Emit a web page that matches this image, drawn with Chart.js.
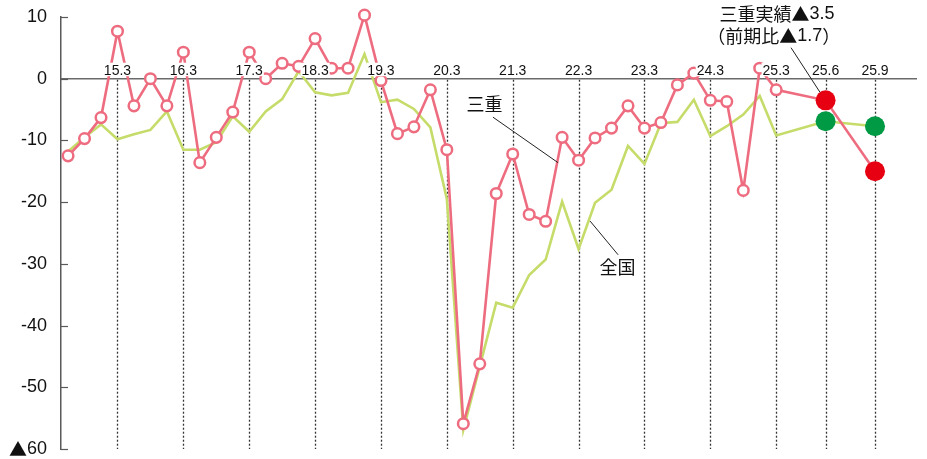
<!DOCTYPE html>
<html>
<head>
<meta charset="utf-8">
<style>
html,body{margin:0;padding:0;background:#fff;}
#wrap{width:927px;height:459px;position:relative;}
</style>
<script src="https://cdn.jsdelivr.net/npm/chart.js@4.4.1/dist/chart.umd.min.js"></script>
</head>
<body>
<div id="wrap"><canvas id="c" width="927" height="459"></canvas></div>
<script>
// ---- data ----
const categories = [
  '14.6','14.9','14.12',
  '15.3','15.6','15.9','15.12',
  '16.3','16.6','16.9','16.12',
  '17.3','17.6','17.9','17.12',
  '18.3','18.6','18.9','18.12',
  '19.3','19.6','19.9','19.12',
  '20.3','20.6','20.9','20.12',
  '21.3','21.6','21.9','21.12',
  '22.3','22.6','22.9','22.12',
  '23.3','23.6','23.9','23.12',
  '24.3','24.6','24.9','24.12',
  '25.3','25.6','25.9'
];
const mieValues = [
  -12.5, -9.7, -6.3,
  7.7, -4.4, 0.0, -4.4,
  4.3, -13.6, -9.5, -5.4,
  4.3, 0.0, 2.5, 2.0,
  6.5, 1.7, 1.7, 10.3,
  -0.3, -8.9, -7.8, -1.8,
  -11.5, -55.9, -46.2, -18.6,
  -12.2, -22.0, -23.1, -9.5,
  -13.2, -9.6, -8.0, -4.4,
  -8.0, -7.1, -1.0, 0.9,
  -3.5, -3.7, -18.1, 1.7,
  -1.8, -3.5, -15.0
];
const nationalValues = [
  -11.8, -9.5, -7.4,
  -9.8, -9.0, -8.3, -5.3,
  -11.5, -11.5, -10.3, -6.1,
  -8.6, -5.3, -3.3, 1.2,
  -2.2, -2.7, -2.3, 4.0,
  -3.8, -3.4, -4.9, -7.9,
  -19.5, -56.9, -46.6, -36.3,
  -37.1, -31.8, -29.3, -19.9,
  -27.6, -20.1, -18.0, -10.9,
  -13.8, -7.2, -7.0, -3.4,
  -9.3, -7.7, -5.8, -2.8,
  -9.2, -6.9, -7.7
];
const xTickLabels = ['15.3','16.3','17.3','18.3','19.3','20.3','21.3','22.3','23.3','24.3','25.3','25.6','25.9'];
const yTickValues = [10, 0, -10, -20, -30, -40, -50, -60];
const yTickLabels = ['10', '0', '-10', '-20', '-30', '-40', '-50', '▲60'];

// the last two periods (25.6, 25.9) are spread wider on the axis (3 slots each)
const lastQuarterly = categories.indexOf('25.3');
const slotOf = i => i <= lastQuarterly ? i : lastQuarterly + (i - lastQuarterly) * 3;
const isLatest = i => i > lastQuarterly;

const RED_LINE = '#ee6c7f';
const RED_DOT = '#e60012';
const GREEN_LINE = '#c6dc6a';
const GREEN_DOT = '#009944';
const LATIN = '"Liberation Sans", Arial, Helvetica, sans-serif';
const CJK = '"Noto Sans CJK JP", sans-serif';

// draw text mixing a Latin font for ASCII and a CJK font for everything else (incl. ▲)
function drawMixed(ctx, text, px, py, size, align) {
  const runs = [];
  for (const ch of text) {
    const cjk = ch.charCodeAt(0) > 0x7f;
    const last = runs[runs.length - 1];
    if (last && last.cjk === cjk) last.t += ch; else runs.push({t: ch, cjk});
  }
  let total = 0;
  runs.forEach(r => {
    ctx.font = size + 'px ' + (r.cjk ? CJK : LATIN);
    r.w = ctx.measureText(r.t).width;
    total += r.w;
  });
  let cx = align === 'center' ? px - total / 2 : align === 'right' ? px - total : px;
  ctx.textAlign = 'left';
  runs.forEach(r => {
    ctx.font = size + 'px ' + (r.cjk ? CJK : LATIN);
    ctx.fillText(r.t, cx, py);
    cx += r.w;
  });
}

const decorPlugin = {
  id: 'decor',
  beforeDatasetsDraw(chart) {
    const {ctx, chartArea, scales: {x, y}} = chart;
    const y0 = y.getPixelForValue(0);
    ctx.save();
    // dashed verticals
    ctx.strokeStyle = '#333';
    ctx.lineWidth = 1.3;
    ctx.setLineDash([2, 2]);
    xTickLabels.forEach(lab => {
      const px = Math.round(x.getPixelForValue(slotOf(categories.indexOf(lab)))) + 0.5;
      ctx.beginPath();
      ctx.moveTo(px, y0 + 1);
      ctx.lineTo(px, chartArea.bottom);
      ctx.stroke();
    });
    ctx.setLineDash([]);
    // zero line
    ctx.strokeStyle = '#6a6a6a';
    ctx.lineWidth = 1.5;
    ctx.beginPath();
    ctx.moveTo(chartArea.left, y0);
    ctx.lineTo(chartArea.right, y0);
    ctx.stroke();
    // y tick marks (inward) and labels
    ctx.strokeStyle = '#595959';
    ctx.lineWidth = 1.2;
    ctx.fillStyle = '#111';
    ctx.textBaseline = 'middle';
    yTickValues.forEach((v, i) => {
      const py = Math.round(y.getPixelForValue(v)) + 0.5;
      ctx.beginPath();
      ctx.moveTo(chartArea.left, py);
      ctx.lineTo(chartArea.left + 7, py);
      ctx.stroke();
      drawMixed(ctx, yTickLabels[i], chartArea.left - 14, py, 18, 'right');
    });
    ctx.restore();
  },
  afterDatasetsDraw(chart) {
    const {ctx, scales: {x, y}} = chart;
    const y0 = y.getPixelForValue(0);
    ctx.save();
    // x tick labels with white boxes
    ctx.font = '14px ' + LATIN;
    ctx.textAlign = 'center';
    ctx.textBaseline = 'alphabetic';
    const base = y0 - 3.5;
    xTickLabels.forEach(lab => {
      const px = x.getPixelForValue(slotOf(categories.indexOf(lab)));
      const w = ctx.measureText(lab).width;
      ctx.fillStyle = '#fff';
      ctx.fillRect(px - w / 2 - 1, base - 12.5, w + 2, 13.5);
      ctx.fillStyle = '#111';
      ctx.fillText(lab, px, base);
    });

    // annotations (anchored in data space)
    const P = (sx, v) => [x.getPixelForValue(sx), y.getPixelForValue(v)];
    const leader = (a, b) => {
      ctx.strokeStyle = '#222';
      ctx.lineWidth = 1;
      ctx.beginPath();
      ctx.moveTo(...P(...a));
      ctx.lineTo(...P(...b));
      ctx.stroke();
    };
    ctx.fillStyle = '#111';
    ctx.textBaseline = 'middle';
    drawMixed(ctx, '三重', ...P(25.29, -4.1), 18, 'center');
    leader([25.8, -6.23], [29.75, -13.6]);
    drawMixed(ctx, '全国', ...P(33.37, -30.6), 18, 'center');
    leader([31.7, -23.07], [33.4, -28.53]);
    drawMixed(ctx, '三重実績▲3.5', ...P(43.05, 10.48), 18, 'center');
    drawMixed(ctx, '（前期比▲1.7）', ...P(42.85, 6.95), 18, 'center');
    leader([43.9, 5.03], [45.66, -2.2]);
    ctx.restore();
  }
};

new Chart(document.getElementById('c'), {
  type: 'line',
  data: {
    datasets: [
      {
        label: '三重',
        order: 0,
        clip: false,
        data: mieValues.map((v, i) => ({x: slotOf(i), y: v})),
        borderColor: RED_LINE,
        borderWidth: 2.6,
        tension: 0,
        pointRadius: c => isLatest(c.dataIndex) ? 10 : 5.3,
        pointBackgroundColor: c => isLatest(c.dataIndex) ? RED_DOT : '#fff',
        pointBorderColor: c => isLatest(c.dataIndex) ? RED_DOT : RED_LINE,
        pointBorderWidth: c => isLatest(c.dataIndex) ? 0 : 2.5
      },
      {
        label: '全国',
        order: 1,
        clip: false,
        data: nationalValues.map((v, i) => ({x: slotOf(i), y: v})),
        borderColor: GREEN_LINE,
        borderWidth: 2.6,
        tension: 0,
        pointRadius: c => isLatest(c.dataIndex) ? 10 : 0,
        pointBackgroundColor: GREEN_DOT,
        pointBorderColor: GREEN_DOT,
        pointBorderWidth: 0
      }
    ]
  },
  options: {
    responsive: false,
    animation: false,
    devicePixelRatio: 1,
    layout: {padding: {top: 17, bottom: 6, right: 10, left: 0}},
    plugins: {legend: {display: false}, tooltip: {enabled: false}},
    scales: {
      x: {type: 'linear', display: false, min: -0.43, max: 51.55},
      y: {
        min: -60, max: 10,
        afterBuildTicks: s => { s.ticks = yTickValues.map(v => ({value: v})); },
        afterFit: s => { s.width = 61; s.paddingTop = 0; s.paddingBottom = 0; },
        grid: {display: false, drawTicks: false},
        border: {display: true, color: '#595959', width: 1.5},
        ticks: {display: false}
      }
    }
  },
  plugins: [decorPlugin]
});
</script>
</body>
</html>
